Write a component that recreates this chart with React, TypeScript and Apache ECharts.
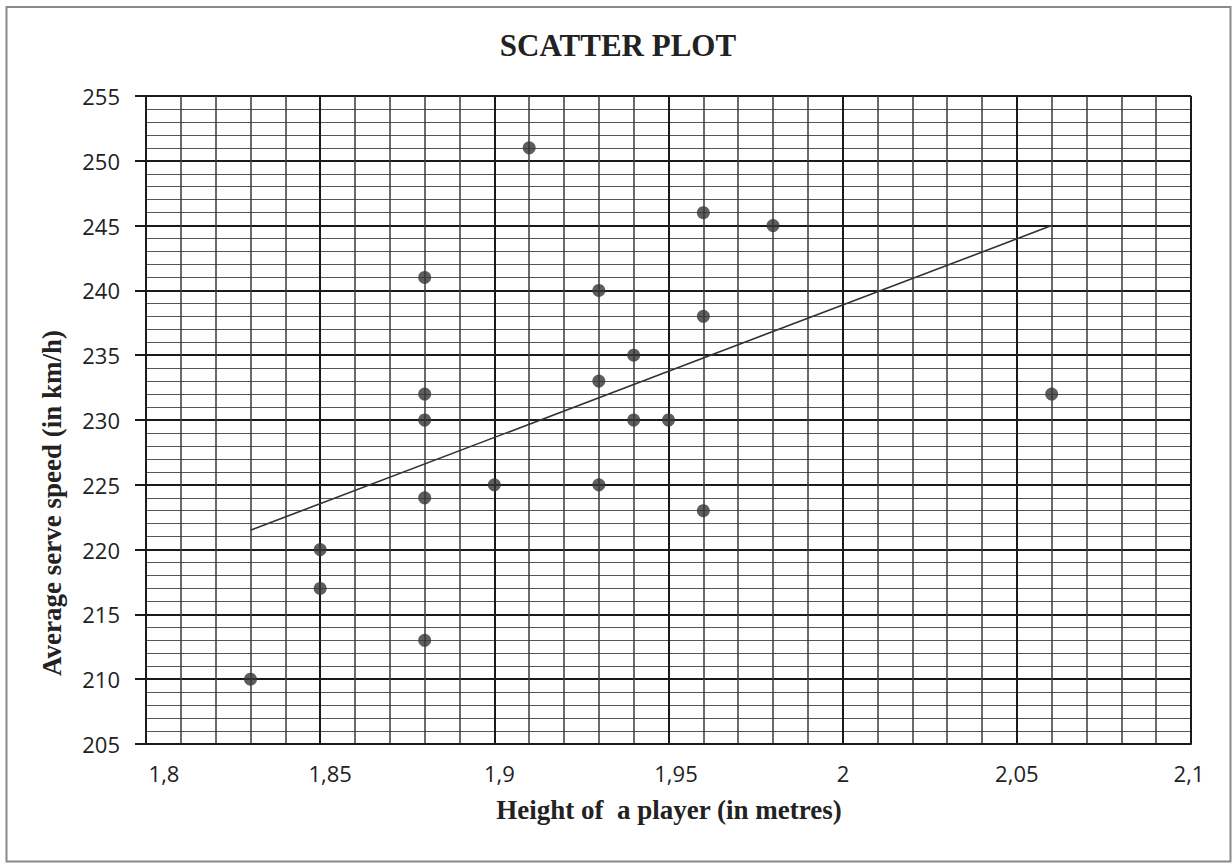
import React, { useEffect, useRef } from "react";
import * as echarts from "echarts";

// Data
const heights = [1.83, 1.85, 1.85, 1.88, 1.88, 1.88, 1.88, 1.88, 1.9, 1.91, 1.93, 1.93, 1.93, 1.94, 1.94, 1.95, 1.96, 1.96, 1.96, 1.98, 2.06];
const speeds = [210, 220, 217, 241, 232, 230, 224, 213, 225, 251, 240, 233, 225, 235, 230, 230, 246, 238, 223, 245, 232];
const trendHeights = [1.83, 2.06];
const trendSpeeds = [221.5, 245];

const chartTitle = "SCATTER PLOT";
const xTitle = "Height of  a player (in metres)";
const yTitle = "Average serve speed (in km/h)";

const X_MIN = 1.8;
const X_MAX = 2.1;
const X_STEP = 0.05;
const Y_MIN = 205;
const Y_MAX = 255;
const Y_STEP = 5;

const LABEL_FONT = "'Open Sans', 'Liberation Sans', sans-serif";
const SERIF = "'Liberation Serif', 'DejaVu Serif', serif";

export default function App() {
  const ref = useRef<HTMLDivElement>(null);

  useEffect(() => {
    if (!ref.current) return;
    const chart = echarts.init(ref.current, null, { renderer: "svg" });

    const xLabelNudge = [18, 10, 5, 7.5, 0.5, 0, -2];
    const rich: Record<string, any> = {};
    xLabelNudge.forEach((d, i) => {
      rich["n" + i] = {
        fontFamily: LABEL_FONT,
        fontSize: 22,
        color: "#222",
        padding: d >= 0 ? [0, 0, 0, 2 * d] : [0, -2 * d, 0, 0],
      };
    });

    chart.setOption({
      animation: false,
      backgroundColor: "#ffffff",
      grid: { left: 146, right: 41, top: 96, bottom: 120, containLabel: false },
      xAxis: {
        type: "value",
        min: X_MIN,
        max: X_MAX,
        interval: X_STEP,
        axisLine: { show: true, onZero: false, lineStyle: { color: "#1a1a1a", width: 2 } },
        axisTick: { show: false },
        minorTick: { show: false, splitNumber: 5 },
        splitLine: { show: true, lineStyle: { color: "#1a1a1a", width: 2 } },
        minorSplitLine: { show: true, lineStyle: { color: "#3a3a3a", width: 1.5 } },
        axisLabel: {
          margin: 18,
          formatter: (v: number) => {
            const i = Math.round((v - X_MIN) / X_STEP);
            const txt = String(Math.round(v * 100) / 100).replace(".", ",");
            return "{n" + i + "|" + txt + "}";
          },
          rich,
        },
      },
      yAxis: {
        type: "value",
        min: Y_MIN,
        max: Y_MAX,
        interval: Y_STEP,
        axisLine: { show: true, onZero: false, lineStyle: { color: "#1a1a1a", width: 2 } },
        axisTick: { show: true, inside: false, length: 11, lineStyle: { color: "#1a1a1a", width: 2 } },
        minorTick: { show: false, splitNumber: 5 },
        splitLine: { show: true, lineStyle: { color: "#1a1a1a", width: 2 } },
        minorSplitLine: { show: true, lineStyle: { color: "#555555", width: 1.2 } },
        axisLabel: {
          margin: 26,
          fontFamily: LABEL_FONT,
          fontSize: 22,
          color: "#222",
        },
      },
      series: [
        {
          type: "line",
          data: trendHeights.map((h, i) => [h, trendSpeeds[i]]),
          symbol: "none",
          lineStyle: { color: "#333", width: 1.6 },
          z: 3,
        },
        {
          type: "scatter",
          data: heights.map((h, i) => [h, speeds[i]]),
          symbolSize: 13,
          itemStyle: { color: "#363636" },
          z: 4,
        },
      ],
      graphic: [
        {
          type: "rect",
          silent: true,
          shape: { x: 6.5, y: 7, width: 1224, height: 854.5 },
          style: { fill: "none", stroke: "#8a8a8a", lineWidth: 2 },
        },
        {
          type: "text",
          x: 618,
          y: 45,
          style: {
            text: chartTitle,
            fontFamily: SERIF,
            fontWeight: "bold",
            fontSize: 31,
            fill: "#222",
            align: "center",
            verticalAlign: "middle",
          },
        },
        {
          type: "text",
          x: 669,
          y: 810,
          style: {
            text: xTitle,
            fontFamily: SERIF,
            fontWeight: "bold",
            fontSize: 27,
            fill: "#222",
            align: "center",
            verticalAlign: "middle",
          },
        },
        {
          type: "text",
          x: 52,
          y: 503,
          rotation: Math.PI / 2,
          style: {
            text: yTitle,
            fontFamily: SERIF,
            fontWeight: "bold",
            fontSize: 27,
            fill: "#222",
            align: "center",
            verticalAlign: "middle",
          },
        },
      ],
    });

    return () => chart.dispose();
  }, []);

  return (
    <div
      ref={ref}
      style={{ position: "fixed", left: 0, top: 0, width: 1232, height: 864, background: "#fff" }}
    />
  );
}
